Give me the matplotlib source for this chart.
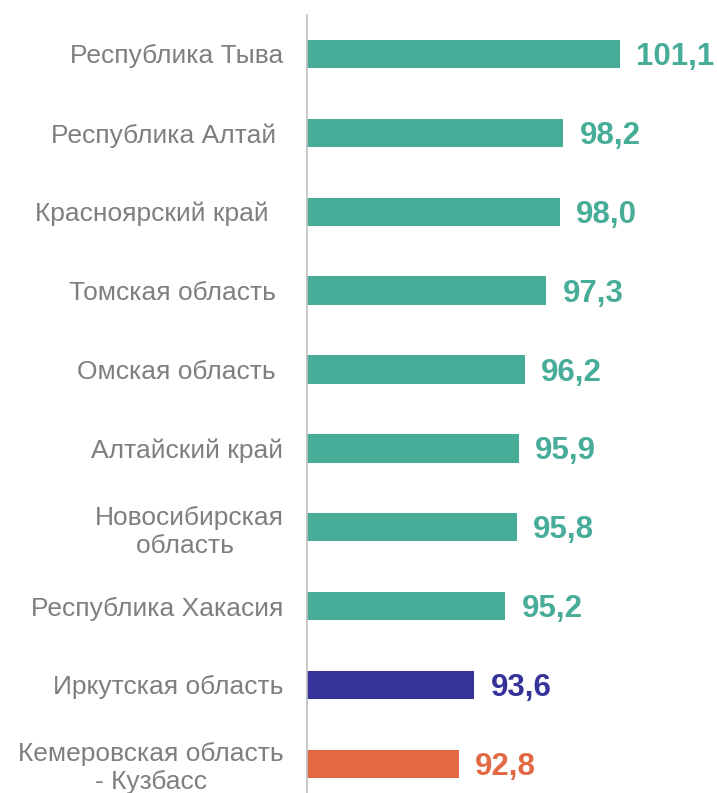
import matplotlib
matplotlib.use("Agg")
import matplotlib.pyplot as plt

# regions and index values (%)
regions = ["Республика Тыва", "Республика Алтай ", "Красноярский край  ", "Томская область ",
           "Омская область ", "Алтайский край", "Новосибирская\nобласть ", "Республика Хакасия",
           "Иркутская область", "Кемеровская область\n- Кузбасс"]
values = [101.1, 98.2, 98.0, 97.3, 96.2, 95.9, 95.8, 95.2, 93.6, 92.8]
value_labels = ["101,1", "98,2", "98,0", "97,3", "96,2", "95,9", "95,8", "95,2", "93,6", "92,8"]

teal = "#47AD98"
colors = [teal] * 8 + ["#35339A", "#E36945"]

plt.rcParams['font.family'] = ['Liberation Sans', 'DejaVu Sans']

fig = plt.figure(figsize=(7.17, 7.93), dpi=100)
ax = fig.add_axes([307 / 717, 0, 1 - 307 / 717, 1 - 15 / 793])

pos = list(range(len(values)))
ax.barh(pos, [v - 85 for v in values], left=85, height=0.36, color=colors)
ax.set_xlim(85, 106.1)
ax.set_ylim(9.37, -0.494)

for p, v, lab, c in zip(pos, values, value_labels, colors):
    ax.text(v + 0.85, p + 0.04, lab, color=c, fontsize=22.5, fontweight="bold", va="center", ha="left")

ax.set_yticks(pos)
ax.set_yticklabels(regions, fontsize=19, color="#7F7F7F")
for t in ax.get_yticklabels():
    t.set_multialignment("center")
ax.tick_params(axis="y", length=0, pad=17)
ax.set_xticks([])

for s in ["top", "right", "bottom"]:
    ax.spines[s].set_visible(False)
ax.spines["left"].set_color("#BFBFBF")
ax.spines["left"].set_linewidth(1.2)

fig.savefig("out.png", dpi=100)
